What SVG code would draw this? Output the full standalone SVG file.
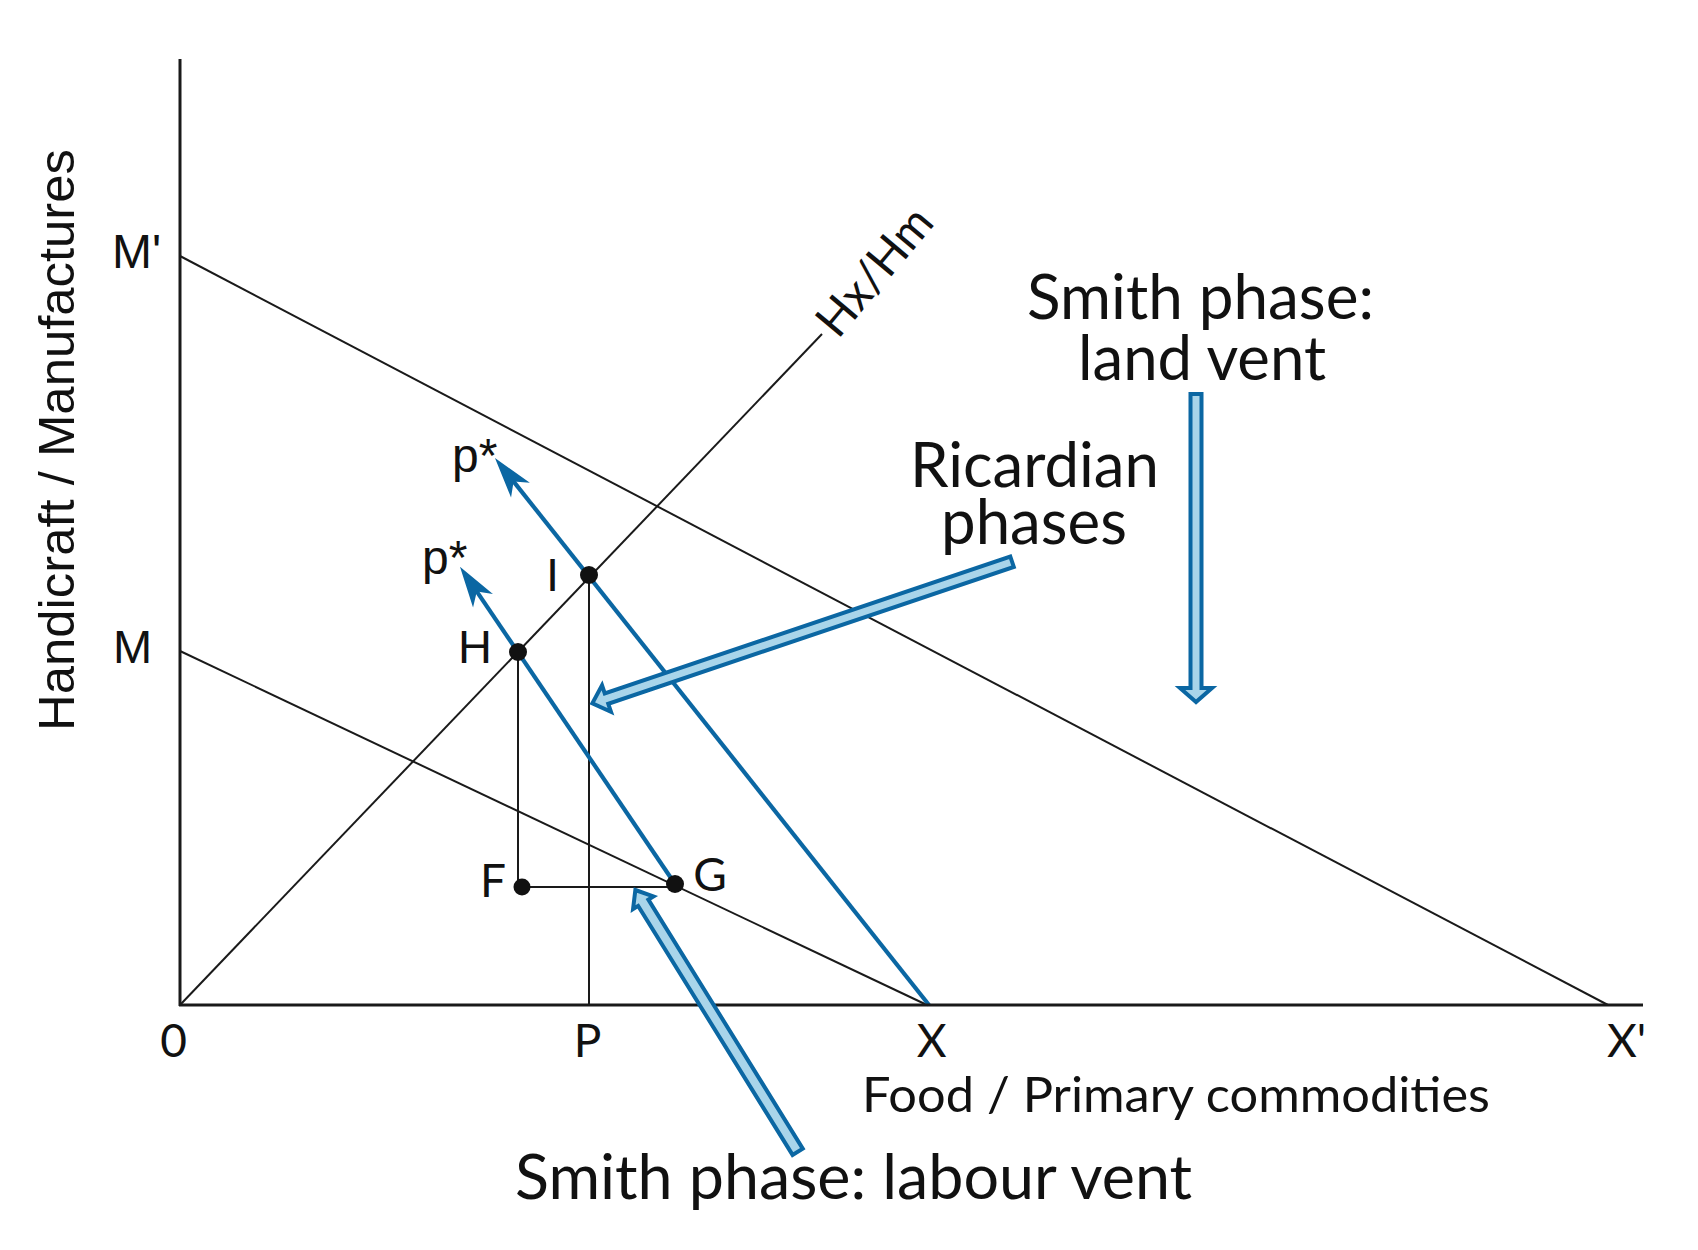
<svg xmlns="http://www.w3.org/2000/svg" width="1698" height="1250" viewBox="0 0 1698 1250">
<style>
  .ln{stroke:#1a1a1a;stroke-width:2;fill:none}
  .ax{stroke:#1a1a1a;stroke-width:3;fill:none}
  .bl{stroke:#0b67a3;stroke-width:4.2;fill:none}
  .blk{fill:#a9d5ea;stroke:#0b67a3;stroke-width:4;stroke-linejoin:miter}
  .dot{fill:#111}
  .ar{font-family:"Liberation Sans",Arial,sans-serif;fill:#111}
  .ss{font-family:Lato,"Noto Sans",sans-serif;fill:#111}
</style>
<defs>
  <marker id="bh" markerUnits="userSpaceOnUse" markerWidth="80" markerHeight="80" refX="0" refY="0" orient="auto" viewBox="-40 -40 80 80" overflow="visible">
    <path d="M25,0 L-16,-12 L-5,0 L-16,12 Z" fill="#0b67a3"/>
  </marker>
</defs>
<rect width="1698" height="1250" fill="#fff"/>

<g id="connectors">
  <line class="ln" x1="180" y1="256" x2="1608" y2="1005"/>
  <line class="ln" x1="180" y1="651" x2="927" y2="1005"/>
  <line class="ln" x1="180" y1="1005" x2="822" y2="334"/>
  <line class="ln" x1="518" y1="652" x2="518" y2="887"/>
  <line class="ln" x1="589" y1="575" x2="589" y2="1005"/>
  <line class="ln" x1="522" y1="887" x2="675" y2="887"/>
  <line class="bl" x1="929" y1="1005" x2="510.5" y2="477.6" marker-end="url(#bh)"/>
  <line class="bl" x1="675" y1="884" x2="474" y2="587.4" marker-end="url(#bh)"/>
</g>

<g id="axes">
  <line class="ax" x1="180" y1="59" x2="180" y2="1006"/>
  <line class="ax" x1="179" y1="1005" x2="1643" y2="1005"/>
  <text class="ar" font-size="50" textLength="582" lengthAdjust="spacingAndGlyphs" transform="translate(74,731) rotate(-90)">Handicraft / Manufactures</text>
  <text class="ss" font-size="49" x="862" y="1112" textLength="628" lengthAdjust="spacingAndGlyphs">Food / Primary commodities</text>
</g>

<g id="point-labels">
  <text class="ar" font-size="48" x="112" y="268">M'</text>
  <text class="ar" font-size="47" x="113" y="663">M</text>
  <text class="ss" font-size="46" x="173.5" y="1057" text-anchor="middle">0</text>
  <text class="ss" font-size="46" x="587.5" y="1057" text-anchor="middle">P</text>
  <text class="ss" font-size="46" x="931.7" y="1057" text-anchor="middle">X</text>
  <text class="ss" font-size="46" x="1626.6" y="1057" text-anchor="middle">X'</text>
  <text class="ss" font-size="47" transform="translate(838,340) rotate(-50)" textLength="152" lengthAdjust="spacingAndGlyphs">Hx/Hm</text>
</g>

<g id="node-H">
  <circle class="dot" cx="518" cy="652" r="9"/>
  <text class="ar" font-size="47" x="458" y="663">H</text>
</g>
<g id="node-I">
  <circle class="dot" cx="589" cy="575" r="9"/>
  <text class="ar" font-size="47" x="546" y="591">I</text>
</g>
<g id="node-F">
  <circle class="dot" cx="522" cy="887" r="8.5"/>
  <text class="ss" font-size="46" x="493" y="897" text-anchor="middle">F</text>
</g>
<g id="node-G">
  <circle class="dot" cx="675" cy="884" r="9"/>
  <text class="ss" font-size="46" x="710" y="891" text-anchor="middle">G</text>
</g>
<g id="p-star-upper">
  <text class="ar" font-size="48" x="452" y="472">p*</text>
</g>
<g id="p-star-lower">
  <text class="ar" font-size="48" x="422" y="574">p*</text>
</g>

<g id="smith-land">
  <text class="ss" font-size="61" x="1027" y="319" textLength="347" lengthAdjust="spacingAndGlyphs">Smith phase:</text>
  <text class="ss" font-size="61" x="1078" y="380" textLength="248" lengthAdjust="spacingAndGlyphs">land vent</text>
  <path class="blk" transform="translate(1196,704) rotate(-90)" d="M2,0 L16,-16 L16,-5.5 L310,-5.5 L310,5.5 L16,5.5 L16,16 Z"/>
</g>

<g id="ricardian">
  <text class="ss" font-size="61" x="910" y="487" textLength="249" lengthAdjust="spacingAndGlyphs">Ricardian</text>
  <text class="ss" font-size="61" x="941" y="544" textLength="186" lengthAdjust="spacingAndGlyphs">phases</text>
  <path class="blk" transform="translate(590.4,704) rotate(-18.65)" d="M2,0 L17,-14 L17,-5.5 L445,-5.5 L445,5.5 L17,5.5 L17,14 Z"/>
</g>

<g id="smith-labour">
  <text class="ss" font-size="61" x="515" y="1199" textLength="677" lengthAdjust="spacingAndGlyphs">Smith phase: labour vent</text>
  <path class="blk" transform="translate(634.3,888.3) rotate(58.2)" d="M2,0 L17,-12 L17,-6 L310,-6 L310,6 L17,6 L17,12 Z"/>
</g>
</svg>
